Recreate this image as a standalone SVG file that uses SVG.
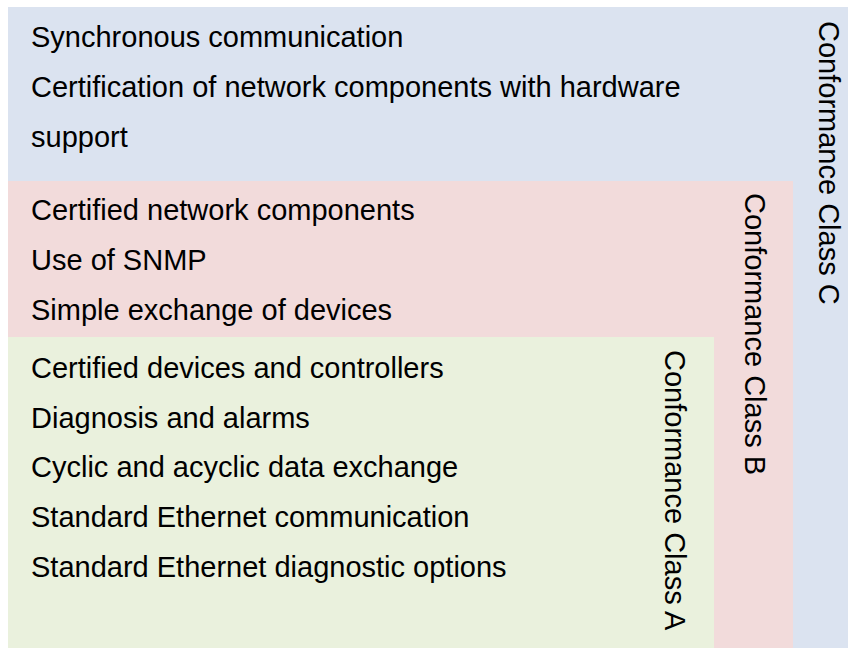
<svg xmlns="http://www.w3.org/2000/svg" width="848" height="648" viewBox="0 0 848 648">
  <style>
    .t { font-family: "Liberation Sans", Arial, sans-serif; font-size: 29px; fill: #000; }
    .c { fill: #DBE3F0; }
    .b { fill: #F2DBDB; }
    .a { fill: #EAF1DD; }
  </style>
  <rect width="848" height="648" fill="#ffffff"/>
  <g id="class-c">
    <rect class="c" x="8" y="7" width="840" height="641"/>
    <text class="t" x="31" y="47">Synchronous communication</text>
    <text class="t" x="31" y="97">Certification of network components with hardware</text>
    <text class="t" x="31" y="147">support</text>
    <text class="t" transform="translate(819,21) rotate(90)">Conformance Class C</text>
  </g>
  <g id="class-b">
    <rect class="b" x="8" y="181" width="785" height="467"/>
    <text class="t" x="31" y="220">Certified network components</text>
    <text class="t" x="31" y="270">Use of SNMP</text>
    <text class="t" x="31" y="320">Simple exchange of devices</text>
    <text class="t" transform="translate(745,193) rotate(90)">Conformance Class B</text>
  </g>
  <g id="class-a">
    <rect class="a" x="8" y="337" width="706" height="311"/>
    <text class="t" x="31" y="378">Certified devices and controllers</text>
    <text class="t" x="31" y="428">Diagnosis and alarms</text>
    <text class="t" x="31" y="477">Cyclic and acyclic data exchange</text>
    <text class="t" x="31" y="527">Standard Ethernet communication</text>
    <text class="t" x="31" y="577">Standard Ethernet diagnostic options</text>
    <text class="t" transform="translate(665,350) rotate(90)">Conformance Class A</text>
  </g>
  <g id="connectors"/>
</svg>
